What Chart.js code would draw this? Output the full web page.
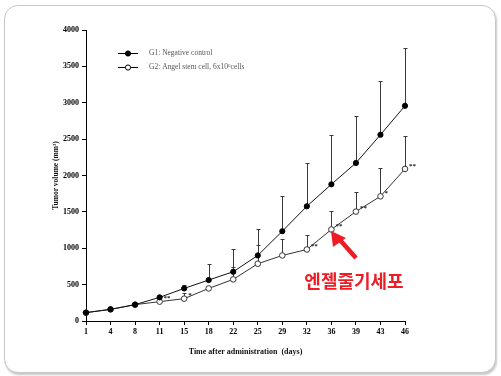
<!DOCTYPE html>
<html>
<head>
<meta charset="utf-8">
<script src="https://cdn.jsdelivr.net/npm/chart.js@4"></script>
<style>
  html, body { margin: 0; padding: 0; background: #fff; }
  #wrap { position: relative; width: 501px; height: 376px; overflow: hidden; }
  #frame {
    position: absolute; left: 4px; top: 5px; width: 490px; height: 366px;
    border: 1px solid #c8c8c8; border-radius: 14px;
    box-shadow: 1px 2px 2px rgba(0, 0, 0, 0.22);
    background: #fff;
  }
  #chart { position: absolute; left: 0; top: 0; }
</style>
</head>
<body>
<div id="wrap">
  <div id="frame"></div>
  <canvas id="chart" width="501" height="376"></canvas>
</div>
<script>
(function () {
  "use strict";

  const days = ["1", "4", "8", "11", "15", "18", "22", "25", "29", "32", "36", "39", "43", "46"];
  const g1Mean = [115, 160, 225, 325, 448, 563, 677, 901, 1234, 1577, 1879, 2172, 2560, 2958];
  const g1Upper = [null, null, null, 345, 494, 778, 993, 1271, 1714, 2172, 2555, 2811, 3305, 3749];
  const g2Mean = [115, 160, 225, 266, 307, 448, 572, 787, 901, 983, 1258, 1504, 1714, 2090];
  const g2Upper = [null, null, null, null, 389, null, 745, 1042, 1125, 1189, 1518, 1775, 2104, 2542];
  const g2Marks = ["", "", "", "**", "*", "", "", "", "", "**", "**", "**", "*", "**"];
  const yTicks = [0, 500, 1000, 1500, 2000, 2500, 3000, 3500, 4000];

  const serif = "'Liberation Serif', 'Times New Roman', serif";

  const overlay = {
    id: "overlay",
    beforeDatasetsDraw(chart) {
      const { ctx, scales: { x, y } } = chart;
      ctx.save();
      ctx.strokeStyle = "#3a3a3a";
      ctx.lineWidth = 1;
      [[g1Mean, g1Upper], [g2Mean, g2Upper]].forEach(([mean, upper]) => {
        upper.forEach((v, i) => {
          if (v == null) return;
          const px = Math.round(x.getPixelForValue(i)) + 0.5;
          const y0 = y.getPixelForValue(mean[i]);
          const y1 = Math.round(y.getPixelForValue(v)) + 0.5;
          ctx.beginPath();
          ctx.moveTo(px, y0);
          ctx.lineTo(px, y1);
          ctx.moveTo(px - 2, y1);
          ctx.lineTo(px + 2, y1);
          ctx.stroke();
        });
      });
      ctx.restore();
    },
    afterDraw(chart) {
      const { ctx, scales: { x, y } } = chart;
      ctx.save();

      // significance marks
      ctx.fillStyle = "#222";
      ctx.font = "bold 7px " + serif;
      ctx.textBaseline = "middle";
      g2Marks.forEach((m, i) => {
        if (!m) return;
        ctx.fillText(m, x.getPixelForValue(i) + 4, y.getPixelForValue(g2Mean[i]) - 3);
      });

      // legend
      const rows = [
        { text: "G1: Negative control", fill: "#000" },
        { text: "G2: Angel stem cell, 6x10\u2076cells", fill: "#fff" },
      ];
      rows.forEach((r, k) => {
        const ly = 53.5 + k * 14;
        ctx.strokeStyle = "#000";
        ctx.lineWidth = 1;
        ctx.beginPath();
        ctx.moveTo(118, ly);
        ctx.lineTo(138, ly);
        ctx.stroke();
        ctx.beginPath();
        ctx.arc(128, ly, 2.6, 0, Math.PI * 2);
        ctx.fillStyle = r.fill;
        ctx.fill();
        ctx.stroke();
        ctx.fillStyle = "#555";
        ctx.font = "7.5px " + serif;
        ctx.textBaseline = "middle";
        ctx.fillText(r.text, 149, ly);
      });

      // red arrow and label
      ctx.strokeStyle = "#ee1c25";
      ctx.fillStyle = "#ee1c25";
      ctx.lineWidth = 4.5;
      ctx.beginPath();
      ctx.moveTo(356, 258);
      ctx.lineTo(340, 240);
      ctx.stroke();
      ctx.beginPath();
      ctx.moveTo(331, 231);
      ctx.lineTo(346, 238);
      ctx.lineTo(333, 247);
      ctx.closePath();
      ctx.fill();

      ctx.font = "bold 18px 'Noto Sans CJK KR', sans-serif";
      ctx.textAlign = "center";
      ctx.textBaseline = "middle";
      ctx.fillText("엔젤줄기세포", 354, 281);
      ctx.restore();
    },
  };

  const tickFont = { family: serif, size: 8, weight: "bold" };

  new Chart(document.getElementById("chart"), {
    type: "line",
    data: {
      labels: days,
      datasets: [
        {
          label: "G1: Negative control",
          data: g1Mean,
          borderColor: "#111",
          borderWidth: 1,
          pointBackgroundColor: "#000",
          pointBorderColor: "#000",
          pointRadius: 2.6,
          tension: 0,
        },
        {
          label: "G2: Angel stem cell",
          data: g2Mean,
          borderColor: "#333",
          borderWidth: 1,
          pointBackgroundColor: "#fff",
          pointBorderColor: "#333",
          pointBorderWidth: 1,
          pointRadius: 2.8,
          tension: 0,
        },
      ],
    },
    options: {
      responsive: false,
      animation: false,
      layout: { padding: { left: 48, top: 30, right: 96, bottom: 15 } },
      plugins: { legend: { display: false }, tooltip: { enabled: false } },
      scales: {
        x: {
          offset: false,
          grid: { drawOnChartArea: false, tickLength: 4, color: "#000" },
          border: { color: "#000", width: 1 },
          ticks: { font: tickFont, color: "#000", padding: 2, maxRotation: 0, autoSkip: false },
          title: {
            display: true,
            text: "Time after administration  (days)",
            font: { family: serif, size: 8, weight: "bold" },
            color: "#111",
          },
          afterFit(s) { s.height = 40; },
        },
        y: {
          min: 0,
          max: 4000,
          grid: { drawOnChartArea: false, tickLength: 4, color: "#000" },
          border: { color: "#000", width: 1 },
          afterBuildTicks(s) { s.ticks = yTicks.map((v) => ({ value: v })); },
          ticks: { font: tickFont, color: "#000", padding: 3, callback: (v) => String(v) },
          title: {
            display: true,
            text: "Tumor volume (mm\u00b3)",
            font: { family: serif, size: 7.5, weight: "bold" },
            color: "#111",
          },
          afterFit(s) { s.width = 38; },
        },
      },
    },
    plugins: [overlay],
  });
})();
</script>
</body>
</html>
